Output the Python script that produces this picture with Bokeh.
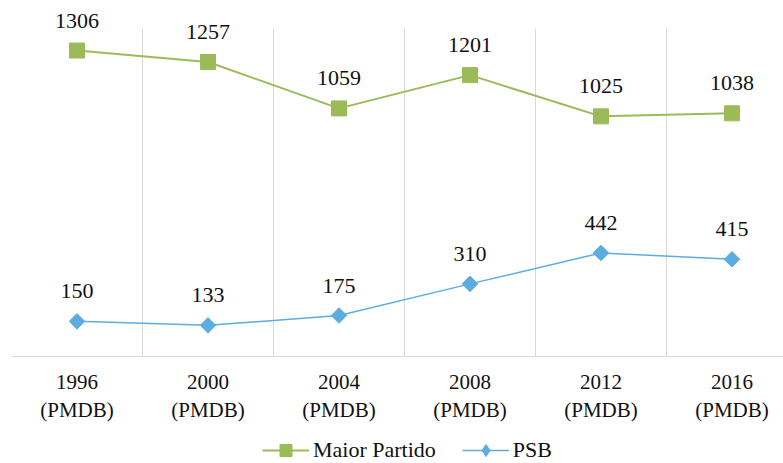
from bokeh.plotting import figure
from bokeh.models import (ColumnDataSource, Range1d, FixedTicker, LabelSet,
                          Legend, LegendItem)
from bokeh.embed import file_html
from bokeh.resources import INLINE
import math

years = ["1996", "2000", "2004", "2008", "2012", "2016"]
parties = ["PMDB", "PMDB", "PMDB", "PMDB", "PMDB", "PMDB"]
maior_partido = [1306, 1257, 1059, 1201, 1025, 1038]
psb = [150, 133, 175, 310, 442, 415]
y_max = 1400

FONT = "Liberation Serif"
GREEN = "#9BBB59"
BLUE = "#5BADDF"
GRID = "#D9D9D9"

idx = list(range(len(years)))
tick_labels = {i: f"{y}\n({p})" for i, y, p in zip(idx, years, parties)}
separators = [i + 0.5 for i in idx[:-1]]

# layout (pixels): plot area left=11, top=28, baseline=356
W, H = 783, 463
LEFT, TOP, BASE = 11, 28, 356
k = (BASE - TOP) / y_max          # px per unit
p = figure(width=W, height=H, output_backend="svg", toolbar_location=None,
           x_range=Range1d(-0.5, -0.5 + (W - LEFT) / 131),
           y_range=Range1d(-(H - BASE) / k, BASE / k),
           min_border_left=LEFT, min_border_right=0, min_border_top=0,
           min_border_bottom=0)
p.outline_line_color = None
p.background_fill_color = "white"
p.border_fill_color = "white"

p.yaxis.visible = False
p.ygrid.grid_line_color = None
p.xgrid.grid_line_color = None

# vertical separators between categories, from baseline to the top of the value axis
p.segment(x0=separators, x1=separators, y0=[0] * len(separators),
          y1=[y_max] * len(separators), line_color=GRID, line_width=1)

p.xaxis.fixed_location = 0
p.xaxis.ticker = FixedTicker(ticks=idx)
p.xaxis.major_label_overrides = tick_labels
p.xaxis.axis_line_color = GRID
p.xaxis.major_tick_line_color = None
p.xaxis.minor_tick_line_color = None
p.xaxis.major_label_text_font = FONT
p.xaxis.major_label_text_font_size = "21px"
p.xaxis.major_label_text_color = "#111111"
p.xaxis.major_label_standoff = 7

src_m = ColumnDataSource(dict(x=idx, y=maior_partido, t=[str(v) for v in maior_partido]))
src_p = ColumnDataSource(dict(x=idx, y=psb, t=[str(v) for v in psb]))

lm = p.line("x", "y", source=src_m, line_color=GREEN, line_width=2)
sm = p.scatter("x", "y", source=src_m, marker="square", size=15,
               fill_color=GREEN, line_color=GREEN)
lp = p.line("x", "y", source=src_p, line_color=BLUE, line_width=1.5)
sp = p.scatter("x", "y", source=src_p, marker="square", size=11, angle=math.pi / 4,
               fill_color=BLUE, line_color=BLUE)
# legend-only swatches (legend glyphs ignore marker rotation); hidden in the plot
sm_leg = p.scatter("x", "y", source=src_m, marker="square",
                   fill_color=GREEN, line_color=GREEN, visible=False)
sp_leg = p.scatter("x", "y", source=src_p, marker="diamond",
                   fill_color=BLUE, line_color=BLUE, visible=False)

for src in (src_m, src_p):
    p.add_layout(LabelSet(x="x", y="y", text="t", source=src, y_offset=23,
                          text_align="center", text_baseline="alphabetic",
                          text_font=FONT, text_font_size="22px",
                          text_color="#111111"))

legend = Legend(items=[LegendItem(label="Maior Partido", renderers=[lm, sm_leg]),
                       LegendItem(label="PSB", renderers=[lp, sp_leg])],
                orientation="horizontal", location=(262 - LEFT, -2),
                border_line_color=None, background_fill_alpha=0,
                padding=0, margin=0, spacing=26, glyph_width=47,
                glyph_height=30, label_standoff=4,
                label_text_font=FONT, label_text_font_size="22px",
                label_text_color="#111111")
p.add_layout(legend)

open("out.html", "w").write(file_html(p, INLINE))
